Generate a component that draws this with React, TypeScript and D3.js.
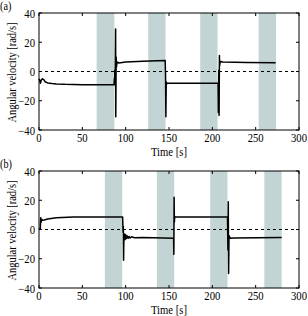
import * as d3 from 'd3';
import React from 'react';

// panel (a)
const timeA = [0, 0.8, 1.6, 2.5, 4, 5.5, 7, 10, 15, 20, 30, 50, 70, 86.5, 87, 87.2, 87.5, 87.8, 88, 88.4, 88.6, 89, 89.4, 90, 92, 100, 120, 145, 145.6, 146, 146.4, 146.8, 147.2, 148, 170, 205, 206.6, 206.9, 207.2, 207.5, 207.8, 208.2, 208.5, 208.8, 209.2, 210, 212, 240, 273];
const valueA = [-5, -6, -8, -6, -5, -5.5, -7, -7.8, -8.2, -8.5, -8.8, -9, -9, -9, -5, -9, 1, -3, 2, 29, -31, 10, 3, 6.5, 5.8, 6.5, 7, 7.5, 7.5, -2, -31, -7, -8.5, -8, -8, -8, -8, -28, -12, 1, -30, 11, 4, 7, 6, 6.8, 6.5, 6.2, 6];
const bandsA = [[66.5, 87], [126, 146], [186, 206], [253.5, 273.5]];

// panel (b)
const timeB = [0, 1.5, 2, 2.5, 3, 4, 6, 10, 20, 40, 96.5, 97, 97.3, 97.6, 98, 98.5, 99, 99.5, 100, 100.5, 101, 102, 103, 104, 105, 107, 110, 120, 155.3, 155.6, 155.9, 156.2, 156.6, 157, 160, 217.5, 218, 218.4, 218.8, 219.2, 219.6, 220.5, 225, 280];
const valueB = [0, 0.5, 8, 5, 7, 6.3, 6.5, 7.2, 8, 8.5, 8.5, -2, 2, -21, -3, -3, -7, -3.5, -6.5, -4, -6.2, -4.5, -6, -4.8, -5.8, -5, -5.6, -5.5, -6, -17, 22, 5, 9, 8.5, 8.5, 8.5, -14, 19, -30, -6, -4.5, -6, -5.8, -5.5];
const bandsB = [[76, 96], [136, 156], [197.5, 217.5], [260, 280]];

const xTicks = [0, 50, 100, 150, 200, 250, 300];
const yTicks = [40, 20, 0, -20, -40];

const FONT = '"Liberation Serif", "DejaVu Serif", serif';
const BAND = '#c3d4d4';

// text squeezed sideways, like the reference's narrow Times face
function Txt({ x, y, anchor = 'start', size = 12, sx = 0.89, rot = 0, children }) {
  return (
    <text transform={`translate(${x},${y}) rotate(${rot}) scale(${sx},1)`} fontSize={size}
      fontFamily={FONT} textAnchor={anchor}>{children}</text>
  );
}

function Panel({ top, label, times, values, bands }) {
  const x = d3.scaleLinear().domain([0, 300]).range([39, 299]);
  const y = d3.scaleLinear().domain([-40, 40]).range([top + 117, top]);
  const pts = times.map((t, i) => [t, values[i]]);
  const line = d3.line().x(d => x(d[0])).y(d => y(d[1]));
  const tk = 3;
  return (
    <g>
      <Txt x={0} y={top - 3} size={12} sx={0.85}>{label}</Txt>
      {bands.map((b, i) => (
        <rect key={i} x={x(b[0])} y={y(40)} width={x(b[1]) - x(b[0])} height={y(-40) - y(40)} fill={BAND} />
      ))}
      <line x1={x(0)} x2={x(300)} y1={y(0)} y2={y(0)} stroke="#000" strokeWidth={1} strokeDasharray="3,3" />
      <path d={line(pts)} fill="none" stroke="#000" strokeWidth={1.5} strokeLinejoin="round" />
      <rect x={x(0)} y={y(40)} width={x(300) - x(0)} height={y(-40) - y(40)} fill="none" stroke="#000" strokeWidth={1} />
      {xTicks.map(t => (
        <g key={'x' + t}>
          <line x1={x(t)} x2={x(t)} y1={y(-40)} y2={y(-40) - tk} stroke="#000" />
          <line x1={x(t)} x2={x(t)} y1={y(40)} y2={y(40) + tk} stroke="#000" />
          <Txt x={x(t)} y={y(-40) + 11.5} anchor="middle">{t}</Txt>
        </g>
      ))}
      {yTicks.map(v => (
        <g key={'y' + v}>
          <line x1={x(0)} x2={x(0) + tk} y1={y(v)} y2={y(v)} stroke="#000" />
          <line x1={x(300)} x2={x(300) - tk} y1={y(v)} y2={y(v)} stroke="#000" />
          <Txt x={35} y={y(v) + 4.5} anchor="end">{v < 0 ? '\u2212' + Math.abs(v) : v}</Txt>
        </g>
      ))}
      <Txt x={169} y={y(-40) + 25.5} anchor="middle">Time [s]</Txt>
      <Txt x={16} y={(y(40) + y(-40)) / 2 + 1} rot={-90} size={13} sx={0.8} anchor="middle">Angular velocity [rad/s]</Txt>
    </g>
  );
}

export default function App() {
  return (
    <svg width={308} height={316} style={{ position: 'absolute', left: 0, top: 0, background: '#fff' }}>
      <Panel top={13} label="(a)" times={timeA} values={valueA} bands={bandsA} />
      <Panel top={171} label="(b)" times={timeB} values={valueB} bands={bandsB} />
    </svg>
  );
}
